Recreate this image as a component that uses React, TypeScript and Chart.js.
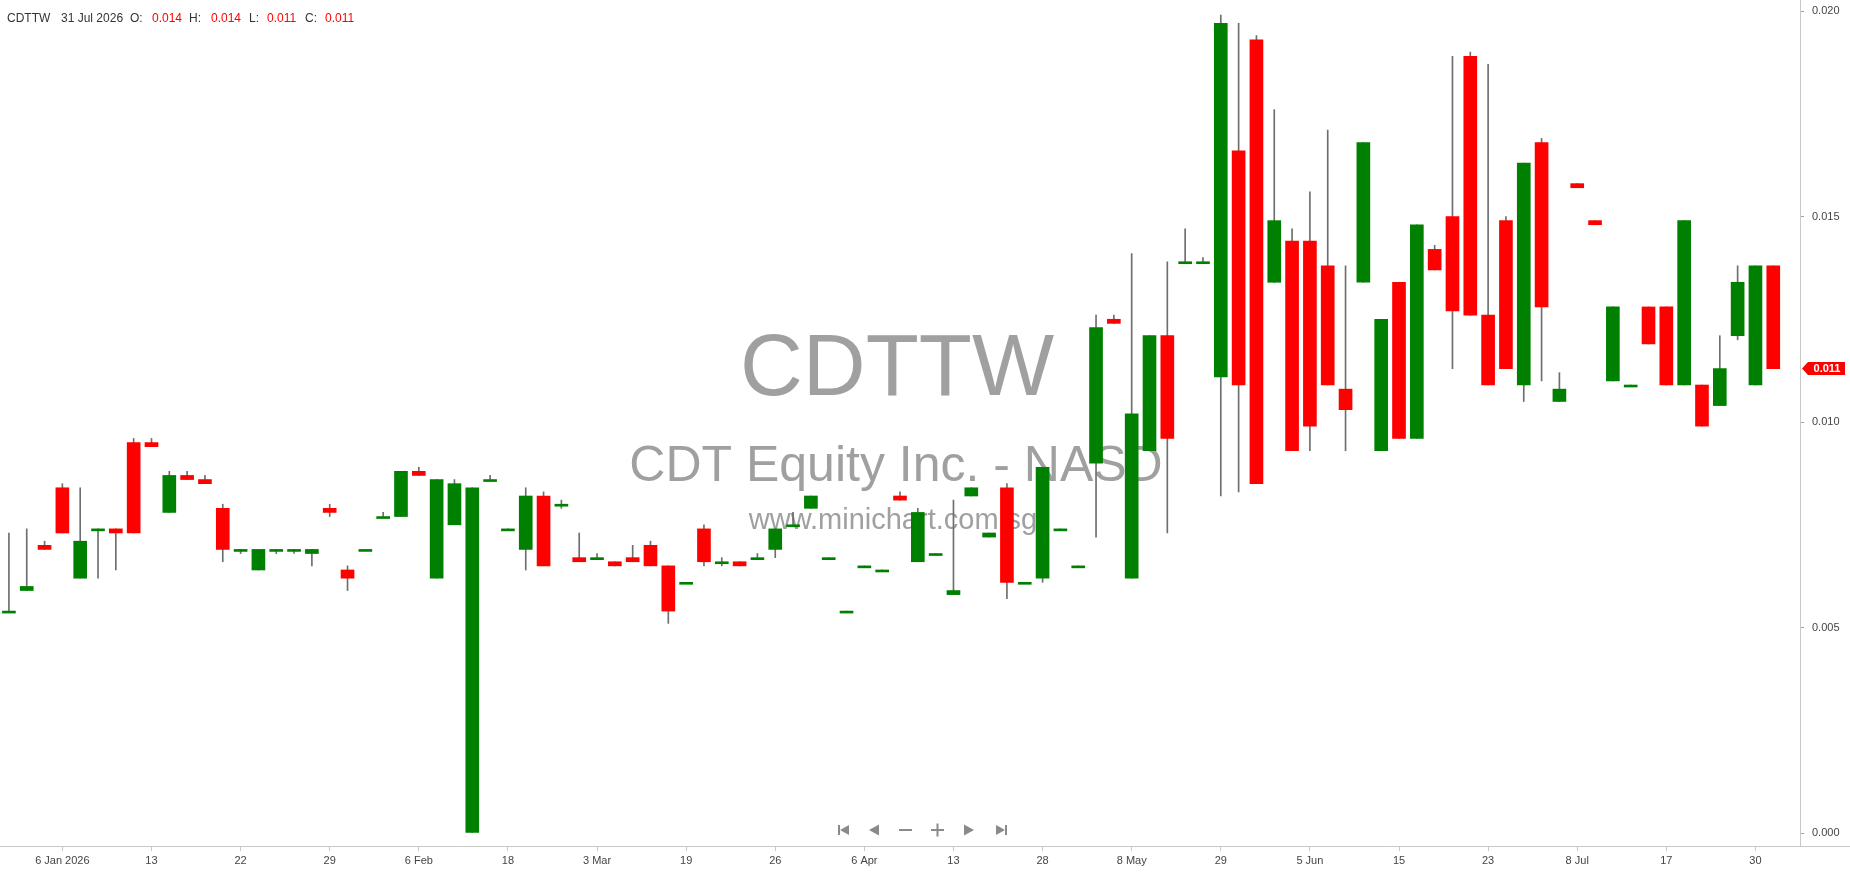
import React, { useEffect, useRef } from 'react';
import { Chart, registerables } from 'chart.js';

Chart.register(...registerables);

const symbol = 'CDTTW';
const companyName = 'CDT Equity Inc. - NASD';
const website = 'www.minichart.com.sg';

const dates: string[] = [
  '2025-12-29', '2025-12-30', '2026-01-02', '2026-01-06', '2026-01-07', '2026-01-08', '2026-01-09', '2026-01-12', '2026-01-13', '2026-01-14',
  '2026-01-16', '2026-01-20', '2026-01-21', '2026-01-22', '2026-01-23', '2026-01-26', '2026-01-27', '2026-01-28', '2026-01-29', '2026-01-30',
  '2026-02-02', '2026-02-03', '2026-02-04', '2026-02-06', '2026-02-09', '2026-02-10', '2026-02-11', '2026-02-13', '2026-02-18', '2026-02-19',
  '2026-02-23', '2026-02-25', '2026-02-27', '2026-03-03', '2026-03-05', '2026-03-09', '2026-03-12', '2026-03-16', '2026-03-19', '2026-03-20',
  '2026-03-23', '2026-03-24', '2026-03-25', '2026-03-26', '2026-03-27', '2026-03-30', '2026-03-31', '2026-04-02', '2026-04-06', '2026-04-07',
  '2026-04-08', '2026-04-09', '2026-04-10', '2026-04-13', '2026-04-15', '2026-04-17', '2026-04-21', '2026-04-24', '2026-04-28', '2026-04-29',
  '2026-05-01', '2026-05-04', '2026-05-06', '2026-05-08', '2026-05-12', '2026-05-15', '2026-05-19', '2026-05-22', '2026-05-29', '2026-06-01',
  '2026-06-02', '2026-06-03', '2026-06-04', '2026-06-05', '2026-06-08', '2026-06-09', '2026-06-10', '2026-06-12', '2026-06-15', '2026-06-16',
  '2026-06-17', '2026-06-18', '2026-06-22', '2026-06-23', '2026-06-25', '2026-06-29', '2026-07-01', '2026-07-06', '2026-07-08', '2026-07-09',
  '2026-07-10', '2026-07-14', '2026-07-15', '2026-07-17', '2026-07-20', '2026-07-22', '2026-07-24', '2026-07-28', '2026-07-30', '2026-07-31',
];

const opens: number[] = [
  0.0054, 0.0059, 0.0070, 0.0084, 0.0062, 0.0074, 0.0074, 0.0095, 0.0095, 0.0078,
  0.0087, 0.0086, 0.0079, 0.0069, 0.0064, 0.0069, 0.0069, 0.0068, 0.0079, 0.0064,
  0.0069, 0.0077, 0.0077, 0.0088, 0.0062, 0.0075, 0.0000, 0.0086, 0.0074, 0.0069,
  0.0082, 0.0080, 0.0067, 0.0067, 0.0066, 0.0067, 0.0070, 0.0065, 0.0061, 0.0074,
  0.0066, 0.0066, 0.0067, 0.0069, 0.0075, 0.0079, 0.0067, 0.0054, 0.0065, 0.0064,
  0.0082, 0.0066, 0.0068, 0.0058, 0.0082, 0.0072, 0.0084, 0.0061, 0.0062, 0.0074,
  0.0065, 0.0090, 0.0125, 0.0062, 0.0093, 0.0121, 0.0139, 0.0139, 0.0111, 0.0166,
  0.0193, 0.0134, 0.0144, 0.0144, 0.0138, 0.0108, 0.0134, 0.0093, 0.0134, 0.0096,
  0.0142, 0.0150, 0.0189, 0.0126, 0.0149, 0.0109, 0.0168, 0.0105, 0.0158, 0.0149,
  0.0110, 0.0109, 0.0128, 0.0128, 0.0109, 0.0109, 0.0104, 0.0121, 0.0109, 0.0138,
];

const highs: number[] = [
  0.0073, 0.0074, 0.0071, 0.0085, 0.0084, 0.0074, 0.0074, 0.0096, 0.0096, 0.0088,
  0.0088, 0.0087, 0.0080, 0.0069, 0.0069, 0.0069, 0.0069, 0.0069, 0.0080, 0.0065,
  0.0069, 0.0078, 0.0088, 0.0089, 0.0086, 0.0086, 0.0084, 0.0087, 0.0074, 0.0084,
  0.0083, 0.0081, 0.0073, 0.0068, 0.0066, 0.0070, 0.0071, 0.0065, 0.0061, 0.0075,
  0.0067, 0.0066, 0.0068, 0.0074, 0.0078, 0.0082, 0.0067, 0.0054, 0.0065, 0.0064,
  0.0083, 0.0079, 0.0068, 0.0081, 0.0084, 0.0073, 0.0085, 0.0061, 0.0089, 0.0074,
  0.0065, 0.0126, 0.0126, 0.0141, 0.0121, 0.0139, 0.0147, 0.0140, 0.0199, 0.0197,
  0.0194, 0.0176, 0.0147, 0.0156, 0.0171, 0.0138, 0.0168, 0.0125, 0.0134, 0.0148,
  0.0143, 0.0189, 0.0190, 0.0187, 0.0150, 0.0163, 0.0169, 0.0112, 0.0158, 0.0149,
  0.0128, 0.0109, 0.0128, 0.0128, 0.0149, 0.0109, 0.0121, 0.0138, 0.0138, 0.0138,
];

const lows: number[] = [
  0.0054, 0.0059, 0.0069, 0.0073, 0.0062, 0.0062, 0.0064, 0.0073, 0.0094, 0.0078,
  0.0086, 0.0085, 0.0066, 0.0068, 0.0064, 0.0068, 0.0068, 0.0065, 0.0077, 0.0059,
  0.0069, 0.0077, 0.0077, 0.0087, 0.0062, 0.0075, 0.0000, 0.0086, 0.0074, 0.0064,
  0.0065, 0.0079, 0.0066, 0.0067, 0.0065, 0.0066, 0.0065, 0.0051, 0.0061, 0.0065,
  0.0065, 0.0065, 0.0067, 0.0067, 0.0075, 0.0079, 0.0067, 0.0054, 0.0065, 0.0064,
  0.0081, 0.0066, 0.0068, 0.0058, 0.0082, 0.0072, 0.0057, 0.0061, 0.0061, 0.0074,
  0.0065, 0.0072, 0.0124, 0.0062, 0.0093, 0.0073, 0.0139, 0.0139, 0.0082, 0.0083,
  0.0085, 0.0134, 0.0093, 0.0093, 0.0109, 0.0093, 0.0134, 0.0093, 0.0096, 0.0096,
  0.0137, 0.0113, 0.0126, 0.0109, 0.0113, 0.0105, 0.0110, 0.0105, 0.0157, 0.0148,
  0.0110, 0.0109, 0.0119, 0.0109, 0.0109, 0.0099, 0.0104, 0.0120, 0.0109, 0.0113,
];

const closes: number[] = [
  0.0054, 0.0060, 0.0069, 0.0073, 0.0071, 0.0074, 0.0073, 0.0073, 0.0094, 0.0087,
  0.0086, 0.0085, 0.0069, 0.0069, 0.0069, 0.0069, 0.0069, 0.0069, 0.0078, 0.0062,
  0.0069, 0.0077, 0.0088, 0.0087, 0.0086, 0.0085, 0.0084, 0.0086, 0.0074, 0.0082,
  0.0065, 0.0080, 0.0066, 0.0067, 0.0065, 0.0066, 0.0065, 0.0054, 0.0061, 0.0066,
  0.0066, 0.0065, 0.0067, 0.0074, 0.0075, 0.0082, 0.0067, 0.0054, 0.0065, 0.0064,
  0.0081, 0.0078, 0.0068, 0.0059, 0.0084, 0.0073, 0.0061, 0.0061, 0.0089, 0.0074,
  0.0065, 0.0123, 0.0124, 0.0102, 0.0121, 0.0096, 0.0139, 0.0139, 0.0197, 0.0109,
  0.0085, 0.0149, 0.0093, 0.0099, 0.0109, 0.0103, 0.0168, 0.0125, 0.0096, 0.0148,
  0.0137, 0.0127, 0.0126, 0.0109, 0.0113, 0.0163, 0.0128, 0.0108, 0.0157, 0.0148,
  0.0128, 0.0109, 0.0119, 0.0109, 0.0149, 0.0099, 0.0113, 0.0134, 0.0138, 0.0113,
];

const yTickValues: number[] = [0, 0.005, 0.01, 0.015, 0.02];
const firstLabelIndex = 3;
const labelEvery = 5;
const monthNames = ['Jan', 'Feb', 'Mar', 'Apr', 'May', 'Jun', 'Jul', 'Aug', 'Sep', 'Oct', 'Nov', 'Dec'];

const UP = '#008000';
const DOWN = '#ff0000';
const FONT = '"Liberation Sans", Arial, sans-serif';

function isLabelIndex(i: number) {
  return i >= firstLabelIndex && i < dates.length && (i - firstLabelIndex) % labelEvery === 0;
}

function parts(iso: string) {
  const [y, m, d] = iso.split('-').map(Number);
  return { y, m, d };
}

function tickText(i: number) {
  const cur = parts(dates[i]);
  if (i === firstLabelIndex) return `${cur.d} ${monthNames[cur.m - 1]} ${cur.y}`;
  const prev = parts(dates[i - labelEvery]);
  if (prev.m !== cur.m) return `${cur.d} ${monthNames[cur.m - 1]}`;
  return `${cur.d}`;
}

const overlayPlugin = {
  id: 'overlay',
  beforeDatasetsDraw(chart: any) {
    const ctx = chart.ctx;
    ctx.save();
    ctx.fillStyle = '#a0a0a0';
    ctx.textAlign = 'center';
    ctx.textBaseline = 'alphabetic';
    ctx.font = `87px ${FONT}`;
    ctx.fillText(symbol, 897, 395);
    ctx.font = `50px ${FONT}`;
    ctx.fillText(companyName, 896, 481);
    ctx.font = `29px ${FONT}`;
    ctx.fillText(website, 893, 529);
    ctx.restore();
  },
  afterDraw(chart: any) {
    const ctx = chart.ctx;
    const area = chart.chartArea;
    const W = chart.width;
    ctx.save();
    // axis lines
    ctx.strokeStyle = '#c8c8c8';
    ctx.lineWidth = 1;
    ctx.beginPath();
    ctx.moveTo(0, Math.round(area.bottom) + 0.5);
    ctx.lineTo(W, Math.round(area.bottom) + 0.5);
    ctx.moveTo(Math.round(area.right) + 0.5, 0);
    ctx.lineTo(Math.round(area.right) + 0.5, Math.round(area.bottom));
    ctx.stroke();

    // last price marker
    const last = closes[closes.length - 1];
    const py = chart.scales.y.getPixelForValue(last);
    const x0 = area.right + 2;
    ctx.fillStyle = DOWN;
    ctx.beginPath();
    ctx.moveTo(x0, py);
    ctx.lineTo(x0 + 6, py - 6.5);
    ctx.lineTo(W - 5, py - 6.5);
    ctx.lineTo(W - 5, py + 6.5);
    ctx.lineTo(x0 + 6, py + 6.5);
    ctx.closePath();
    ctx.fill();
    ctx.fillStyle = '#ffffff';
    ctx.font = `bold 11px ${FONT}`;
    ctx.textAlign = 'center';
    ctx.textBaseline = 'middle';
    ctx.fillText(last.toFixed(3), x0 + 25, py + 0.5);

    // navigation icons
    const cy = 830;
    ctx.fillStyle = '#8a8a8a';
    // |<
    ctx.fillRect(838, cy - 5, 2, 10);
    ctx.beginPath();
    ctx.moveTo(840, cy); ctx.lineTo(849, cy - 5); ctx.lineTo(849, cy + 5); ctx.closePath(); ctx.fill();
    // <
    ctx.beginPath();
    ctx.moveTo(869, cy); ctx.lineTo(879, cy - 5.5); ctx.lineTo(879, cy + 5.5); ctx.closePath(); ctx.fill();
    // -
    ctx.fillRect(899, cy - 1, 13, 2);
    // +
    ctx.fillRect(931, cy - 1, 13, 2);
    ctx.fillRect(936.5, cy - 6.5, 2, 13);
    // >
    ctx.beginPath();
    ctx.moveTo(974, cy); ctx.lineTo(964, cy - 5.5); ctx.lineTo(964, cy + 5.5); ctx.closePath(); ctx.fill();
    // >|
    ctx.beginPath();
    ctx.moveTo(1005, cy); ctx.lineTo(996, cy - 5); ctx.lineTo(996, cy + 5); ctx.closePath(); ctx.fill();
    ctx.fillRect(1005, cy - 5, 2, 10);
    ctx.restore();
  },
};

export default function App() {
  const canvasRef = useRef<HTMLCanvasElement | null>(null);

  useEffect(() => {
    if (!canvasRef.current) return;
    const labels = [...dates, ''];
    const bodies = opens.map((o, i) => [o, closes[i]]);
    const wicks = lows.map((l, i) => [l, highs[i]]);
    const colors = opens.map((o, i) => (closes[i] >= o ? UP : DOWN));

    const chart = new Chart(canvasRef.current, {
      type: 'bar',
      data: {
        labels,
        datasets: [
          {
            label: 'body',
            data: bodies as any,
            backgroundColor: colors,
            borderWidth: 0,
            barThickness: 13,
            minBarLength: 2,
            grouped: false,
            order: 0,
          },
          {
            label: 'wick',
            data: wicks as any,
            backgroundColor: '#6e6e6e',
            borderWidth: 0,
            barThickness: 1,
            grouped: false,
            order: 1,
          },
        ],
      },
      options: {
        animation: false,
        responsive: false,
        maintainAspectRatio: false,
        layout: { padding: 0 },
        plugins: {
          legend: { display: false },
          tooltip: { enabled: false },
        },
        events: [],
        scales: {
          x: {
            type: 'category',
            offset: true,
            border: { display: false },
            grid: {
              display: true,
              drawOnChartArea: false,
              drawTicks: true,
              tickLength: 5,
              color: '#c8c8c8',
              offset: false,
            },
            ticks: {
              autoSkip: false,
              maxRotation: 0,
              minRotation: 0,
              padding: 3,
              color: '#444444',
              font: { family: FONT, size: 11 },
              callback: (value: any) => tickText(Number(value)),
            },
            afterBuildTicks: (scale: any) => {
              scale.ticks = scale.ticks.filter((t: any) => isLabelIndex(t.value));
            },
            afterFit: (scale: any) => {
              scale.height = 28;
              scale.paddingLeft = 0;
              scale.paddingRight = 0;
            },
          },
          y: {
            position: 'right',
            min: -0.000316,
            max: 0.020268,
            border: { display: false },
            grid: {
              display: true,
              drawOnChartArea: false,
              drawTicks: true,
              tickLength: 4,
              color: '#a0a0a0',
            },
            ticks: {
              padding: 8,
              color: '#444444',
              font: { family: FONT, size: 11 },
              callback: (value: any) => Number(value).toFixed(3),
            },
            afterBuildTicks: (scale: any) => {
              scale.ticks = yTickValues.map((v) => ({ value: v }));
            },
            afterFit: (scale: any) => {
              scale.width = 50;
              scale.paddingTop = 0;
              scale.paddingBottom = 0;
            },
          },
        },
      },
      plugins: [overlayPlugin],
    });
    return () => chart.destroy();
  }, []);

  const n = dates.length;
  const lastDate = parts(dates[n - 1]);
  const dateText = `${lastDate.d} ${monthNames[lastDate.m - 1]} ${lastDate.y}`;
  const hdr: React.CSSProperties = {
    position: 'absolute',
    top: 11,
    fontFamily: FONT,
    fontSize: 12,
    lineHeight: '14px',
    whiteSpace: 'nowrap',
  };
  const lab = { ...hdr, color: '#333333' };
  const val = { ...hdr, color: '#ff0000' };

  return (
    <div style={{ position: 'fixed', left: 0, top: 0, width: 1850, height: 874, background: '#ffffff', overflow: 'hidden' }}>
      <canvas ref={canvasRef} width={1850} height={874} style={{ position: 'absolute', left: 0, top: 0, width: 1850, height: 874 }} />
      <span style={{ ...lab, left: 7 }}>{symbol}</span>
      <span style={{ ...lab, left: 61 }}>{dateText}</span>
      <span style={{ ...lab, left: 130 }}>O:</span>
      <span style={{ ...val, left: 152 }}>{opens[n - 1].toFixed(3)}</span>
      <span style={{ ...lab, left: 189 }}>H:</span>
      <span style={{ ...val, left: 211 }}>{highs[n - 1].toFixed(3)}</span>
      <span style={{ ...lab, left: 249 }}>L:</span>
      <span style={{ ...val, left: 267 }}>{lows[n - 1].toFixed(3)}</span>
      <span style={{ ...lab, left: 305 }}>C:</span>
      <span style={{ ...val, left: 325 }}>{closes[n - 1].toFixed(3)}</span>
    </div>
  );
}
